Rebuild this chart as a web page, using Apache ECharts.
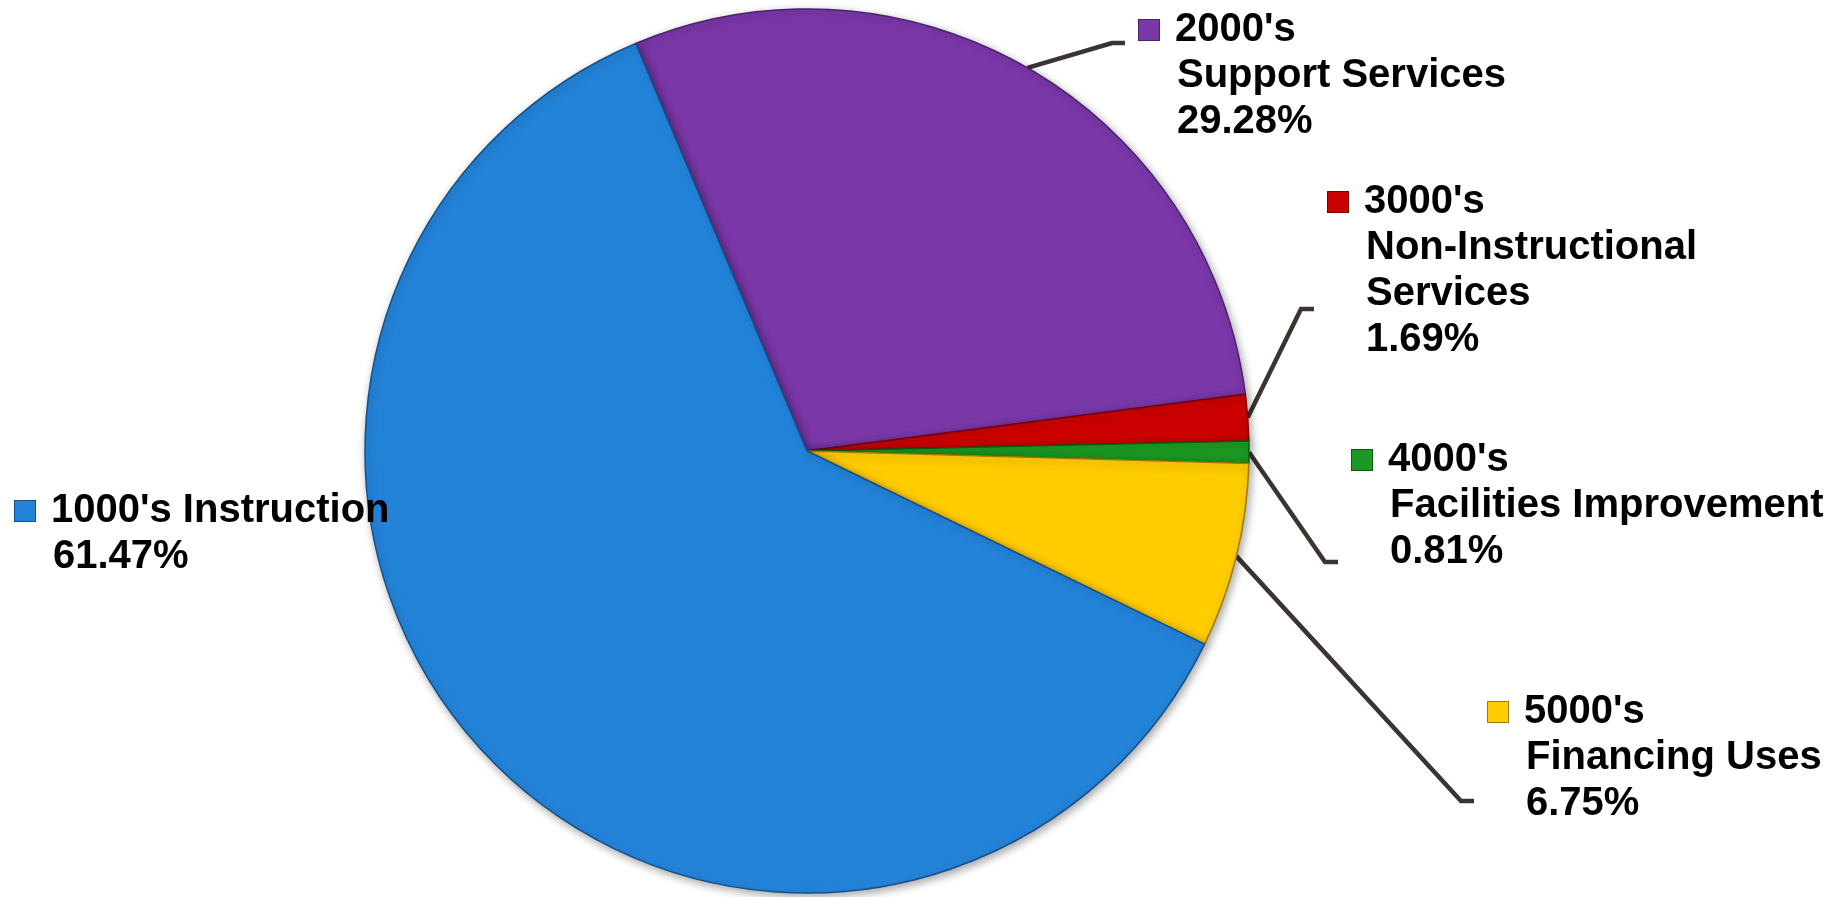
<!DOCTYPE html>
<html>
<head>
<meta charset="utf-8">
<title>Expenditures by Function</title>
<script src="https://cdn.jsdelivr.net/npm/echarts@6/dist/echarts.min.js"></script>
<style>
  html, body { margin: 0; padding: 0; background: #ffffff; }
  #chart { width: 1847px; height: 897px; }
</style>
</head>
<body>
<div id="chart"></div>
<script>
// Function codes, headings and share of total expenditures (percent), clockwise from the top
const codes = ["2000's", "3000's", "4000's", "5000's", "1000's"];
const headings = [
  "2000's\nSupport Services",
  "3000's\nNon-Instructional\nServices",
  "4000's\nFacilities Improvement",
  "5000's\nFinancing Uses",
  "1000's Instruction"
];
const shares = [29.28, 1.69, 0.81, 6.75, 61.47];

// Slice fills
const colors = ['#7a37a8', '#cc0000', '#1a9a22', '#ffcc00', '#2383d9'];
const edgeColors = ['#4e1f70', '#7a0000', '#0d5a12', '#a07a00', '#14508a'];

// Label placement: [box left, box top, leader line y] in px; null = no leader line
const labelPlacement = [
  [1139, 7, 43],
  [1328, 179, 309],
  [1352, 437, 562],
  [1488, 689, 801],
  [15, 488, null]
];

const FONT = '"Liberation Sans", Arial, sans-serif';
const LINE_H = 46;

const rich = {
  t: { fontFamily: FONT, fontSize: 40, fontWeight: 'bold', color: '#000', lineHeight: LINE_H },
  g: { width: 16, lineHeight: LINE_H },
  sp: { width: 38, lineHeight: LINE_H }
};
colors.forEach(function (c, i) {
  rich['sq' + i] = {
    width: 20, height: 20, lineHeight: LINE_H,
    backgroundColor: c, borderColor: edgeColors[i], borderWidth: 1
  };
});

function labelText(i) {
  const lines = headings[i].split('\n').concat([shares[i].toFixed(2) + '%']);
  return lines.map(function (line, k) {
    return k === 0
      ? '{sq' + i + '|}{g|}{t|' + line + '}'
      : '{sp|}{t|' + line + '}';
  }).join('\n');
}

const data = codes.map(function (code, i) {
  return {
    name: code,
    value: shares[i],
    itemStyle: { color: colors[i], borderColor: edgeColors[i] },
    labelLine: { show: labelPlacement[i][2] !== null }
  };
});

const chart = echarts.init(document.getElementById('chart'), null, { renderer: 'canvas' });

chart.setOption({
  backgroundColor: '#ffffff',
  animation: false,
  series: [{
    type: 'pie',
    center: [807, 451],
    radius: 442,
    startAngle: 112.8,
    clockwise: true,
    avoidLabelOverlap: false,
    data: data,
    itemStyle: {
      borderWidth: 1.5,
      shadowBlur: 8,
      shadowOffsetX: 2,
      shadowOffsetY: 3,
      shadowColor: 'rgba(0,0,0,0.35)'
    },
    label: {
      show: true,
      position: 'outside',
      formatter: function (p) { return labelText(p.dataIndex); },
      rich: rich
    },
    labelLine: {
      show: true,
      length: 20,
      length2: 10,
      smooth: false,
      lineStyle: { color: '#3c3430', width: 4.5 }
    },
    labelLayout: function (params) {
      const pl = labelPlacement[params.dataIndex];
      const out = { x: pl[0], y: pl[1], align: 'left', verticalAlign: 'top' };
      if (pl[2] !== null && params.labelLinePoints) {
        const end = pl[0] - 14;
        out.labelLinePoints = [
          params.labelLinePoints[0],
          [end - 13, pl[2]],
          [end, pl[2]]
        ];
      }
      return out;
    },
    emphasis: { disabled: true }
  }]
});
</script>
</body>
</html>
